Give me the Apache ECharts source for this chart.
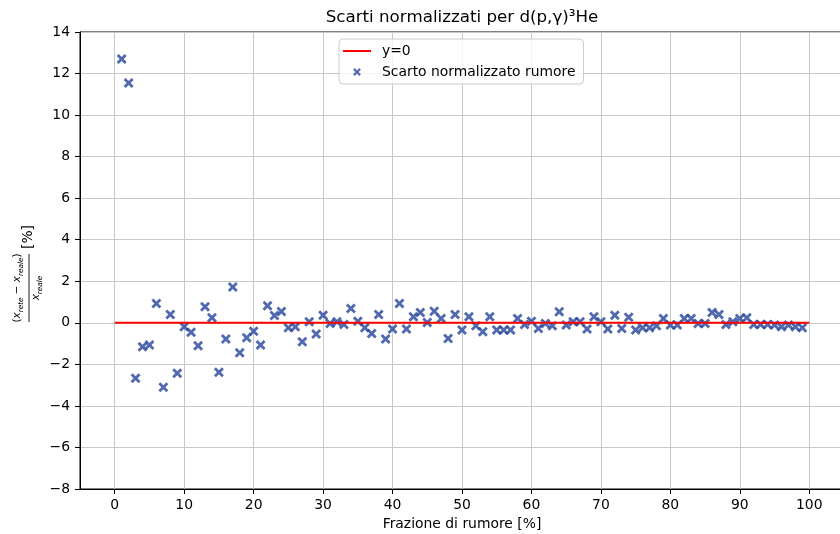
<!DOCTYPE html>
<html>
<head>
<meta charset="utf-8">
<script src="https://cdn.jsdelivr.net/npm/echarts@6/dist/echarts.min.js"></script>
<style>
  html, body { margin: 0; padding: 0; background: #ffffff; }
  #chart { width: 840px; height: 534px; }
</style>
</head>
<body>
<div id="chart"></div>
<script>
// Noise fraction [%] for each trained network
const noiseFraction = [
  1, 2, 3, 4, 5, 6, 7, 8, 9, 10, 11, 12, 13, 14, 15, 16, 17, 18, 19, 20,
  21, 22, 23, 24, 25, 26, 27, 28, 29, 30, 31, 32, 33, 34, 35, 36, 37, 38, 39, 40,
  41, 42, 43, 44, 45, 46, 47, 48, 49, 50, 51, 52, 53, 54, 55, 56, 57, 58, 59, 60,
  61, 62, 63, 64, 65, 66, 67, 68, 69, 70, 71, 72, 73, 74, 75, 76, 77, 78, 79, 80,
  81, 82, 83, 84, 85, 86, 87, 88, 89, 90, 91, 92, 93, 94, 95, 96, 97, 98, 99
];

// Normalized residual (x_rete - x_reale) / x_reale [%]
const normalizedResidual = [
  12.70, 11.55, -2.67, -1.15, -1.07, 0.93, -3.10, 0.40, -2.43, -0.19,
  -0.46, -1.10, 0.77, 0.24, -2.38, -0.78, 1.73, -1.44, -0.72, -0.40,
  -1.07, 0.82, 0.35, 0.54, -0.24, -0.19, -0.91, 0.05, -0.54, 0.37,
  -0.03, 0.05, -0.08, 0.69, 0.08, -0.24, -0.51, 0.40, -0.78, -0.30,
  0.93, -0.30, 0.29, 0.50, 0.02, 0.56, 0.21, -0.75, 0.40, -0.35,
  0.29, -0.14, -0.43, 0.29, -0.35, -0.35, -0.35, 0.21, -0.08, 0.08,
  -0.27, -0.03, -0.14, 0.53, -0.11, 0.05, 0.05, -0.30, 0.29, 0.05,
  -0.30, 0.37, -0.27, 0.27, -0.35, -0.24, -0.24, -0.14, 0.21, -0.11,
  -0.11, 0.21, 0.21, -0.03, -0.03, 0.50, 0.40, -0.08, 0.05, 0.21,
  0.24, -0.08, -0.08, -0.08, -0.11, -0.19, -0.11, -0.19, -0.24
];

// Reference line y = 0
const zeroLineX = [0, 100];
const zeroLineY = [0, 0];

// Tick labels of the x axis
const xTickValues = [0, 10, 20, 30, 40, 50, 60, 70, 80, 90, 100];

const FONT = 'DejaVu Sans';
const TEXT = '#000000';
const RED = '#ff0000';
const BLUE = '#24449b';

// "x" marker drawn as a filled cross
const crossPath = 'path://M2,0L5,3L8,0L10,2L7,5L10,8L8,10L5,7L2,10L0,8L3,5L0,2Z';
// same cross with an empty margin, so it stays small inside the legend handle
const crossLegendIcon = 'path://M-13,-4M23,14M2,0L5,3L8,0L10,2L7,5L10,8L8,10L5,7L2,10L0,8L3,5L0,2Z';
// short horizontal stroke for the y=0 legend handle
const lineLegendIcon = 'path://M0,0M28,14M0,6L28,6L28,8L0,8Z';

const minusSign = v => String(v).replace('-', '\u2212');

const mathRich = {
  p: { fontFamily: FONT, fontSize: 10.4, lineHeight: 12, verticalAlign: 'top', fill: TEXT },
  v: { fontFamily: FONT, fontSize: 10.4, fontStyle: 'italic', lineHeight: 12, verticalAlign: 'top', fill: TEXT },
  s: { fontFamily: FONT, fontSize: 7.3, fontStyle: 'italic', lineHeight: 8, padding: [6, 0, 0, 0], verticalAlign: 'top', fill: TEXT }
};

const chart = echarts.init(document.getElementById('chart'), null, { renderer: 'canvas' });

chart.setOption({
  animation: false,
  backgroundColor: '#ffffff',
  title: {
    text: 'Scarti normalizzati per d(p,\u03b3)\u00b3He',
    left: 462,
    top: 9,
    textAlign: 'center',
    padding: 0,
    textStyle: { fontFamily: FONT, fontSize: 16.7, fontWeight: 'normal', color: TEXT }
  },
  legend: {
    orient: 'vertical',
    left: 339,
    top: 39,
    padding: [5, 8, 5, 4],
    itemWidth: 28,
    itemHeight: 14,
    itemGap: 7,
    selectedMode: false,
    backgroundColor: 'rgba(255,255,255,0.8)',
    borderColor: '#cccccc',
    borderWidth: 1,
    borderRadius: 4,
    z: 10,
    textStyle: { fontFamily: FONT, fontSize: 13.9, color: TEXT, padding: [0, 0, 0, 6] },
    data: [
      { name: 'y=0', icon: lineLegendIcon, itemStyle: { color: RED } },
      { name: 'Scarto normalizzato rumore', icon: crossLegendIcon, itemStyle: { color: BLUE } }
    ]
  },
  grid: {
    left: 80,
    top: 32,
    width: 764,
    height: 457,
    outerBoundsMode: 'none',
    containLabel: false,
    show: true,
    borderColor: '#000000',
    borderWidth: 1,
    backgroundColor: 'transparent'
  },
  xAxis: {
    type: 'value',
    min: -5,
    max: 105,
    name: 'Frazione di rumore [%]',
    nameLocation: 'middle',
    nameGap: 28,
    nameTextStyle: { fontFamily: FONT, fontSize: 13.9, color: TEXT },
    axisLine: { show: true, onZero: false, lineStyle: { color: '#000000', width: 1 } },
    axisTick: { show: true, customValues: xTickValues, length: 5, inside: false, lineStyle: { color: '#000000', width: 1 } },
    axisLabel: { customValues: xTickValues, margin: 9, fontFamily: FONT, fontSize: 13.9, color: TEXT, formatter: minusSign },
    splitLine: { show: true, lineStyle: { color: '#c8c8c8', width: 1 } }
  },
  yAxis: {
    type: 'value',
    min: -8,
    max: 14,
    interval: 2,
    axisLine: { show: true, onZero: false, lineStyle: { color: '#000000', width: 1 } },
    axisTick: { show: true, length: 5, inside: false, lineStyle: { color: '#000000', width: 1 } },
    axisLabel: { margin: 10, fontFamily: FONT, fontSize: 13.9, color: TEXT, formatter: minusSign },
    splitLine: { show: true, lineStyle: { color: '#c8c8c8', width: 1 } }
  },
  series: [
    {
      name: 'y=0',
      type: 'line',
      data: zeroLineX.map((x, i) => [x, zeroLineY[i]]),
      symbol: 'none',
      silent: true,
      z: 4,
      color: RED,
      lineStyle: { color: RED, width: 2 }
    },
    {
      name: 'Scarto normalizzato rumore',
      type: 'scatter',
      data: noiseFraction.map((x, i) => [x, normalizedResidual[i]]),
      symbol: crossPath,
      symbolSize: 10,
      z: 3,
      color: BLUE,
      itemStyle: { color: BLUE }
    }
  ],
  graphic: [
    {
      // y-axis label: fraction (x_rete - x_reale) / x_reale followed by [%]
      type: 'group',
      x: 29,
      y: 288,
      rotation: Math.PI / 2,
      children: [
        {
          type: 'text',
          x: 0,
          y: -11,
          style: {
            text: '{p|(}{v|x}{s|rete}{p| \u2212 }{v|x}{s|reale}{p|)}',
            rich: mathRich,
            align: 'center',
            verticalAlign: 'middle'
          }
        },
        {
          type: 'line',
          shape: { x1: -34, y1: 0, x2: 34, y2: 0 },
          style: { stroke: TEXT, lineWidth: 0.9 }
        },
        {
          type: 'text',
          x: 0,
          y: 8,
          style: {
            text: '{v|x}{s|reale}',
            rich: mathRich,
            align: 'center',
            verticalAlign: 'middle'
          }
        },
        {
          type: 'text',
          x: 39,
          y: -1,
          style: {
            text: '[%]',
            fontFamily: FONT,
            fontSize: 13.9,
            fill: TEXT,
            align: 'left',
            verticalAlign: 'middle'
          }
        }
      ]
    }
  ]
});
</script>
</body>
</html>
